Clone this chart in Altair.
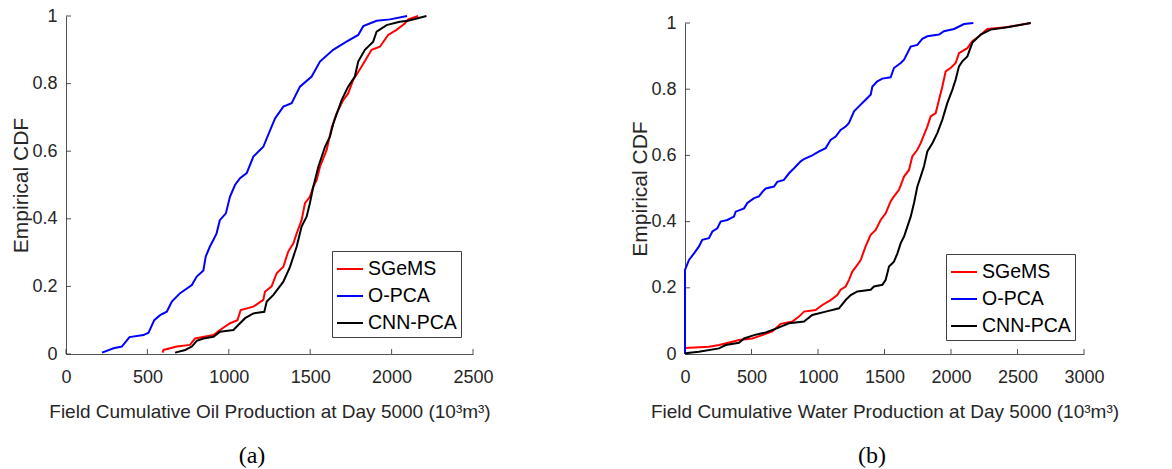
import altair as alt
import pandas as pd

series = ["SGeMS", "O-PCA", "CNN-PCA"]
colors = ["#ff0000", "#0000ff", "#000000"]
y_ticks = [0, 0.2, 0.4, 0.6, 0.8, 1]
a_x_ticks = [0, 500, 1000, 1500, 2000, 2500]
b_x_ticks = [0, 500, 1000, 1500, 2000, 2500, 3000]

a_title = "Field Cumulative Oil Production at Day 5000 (10³m³)"
b_title = "Field Cumulative Water Production at Day 5000 (10³m³)"

# Panel (a): oil
a_sgems_x = [593, 599, 681, 762, 793, 906, 946, 1008, 1053, 1073, 1151, 1212, 1222, 1263, 1294, 1335, 1365, 1396, 1417, 1447,
             1468, 1498, 1519, 1540, 1560, 1601, 1631, 1662, 1703, 1733, 1764, 1815, 1846, 1877, 1928, 1979, 2030, 2081, 2102, 2163]
a_sgems_y = [0.004, 0.012, 0.022, 0.027, 0.046, 0.056, 0.071, 0.091, 0.10, 0.13, 0.14, 0.16, 0.184, 0.20, 0.239, 0.258, 0.303, 0.327, 0.357, 0.396,
             0.446, 0.465, 0.495, 0.515, 0.554, 0.604, 0.668, 0.712, 0.751, 0.771, 0.811, 0.85, 0.875, 0.90, 0.909, 0.944, 0.959, 0.978, 0.99, 1.0]
a_opca_x = [221, 292, 343, 390, 476, 507, 542, 578, 619, 650, 701, 773, 803, 844, 858, 884, 905, 925, 945, 982,
            1007, 1038, 1069, 1110, 1151, 1212, 1263, 1284, 1335, 1386, 1437, 1509, 1560, 1641, 1723, 1795, 1826, 1908, 1990, 2095]
a_opca_y = [0.004, 0.017, 0.022, 0.05, 0.056, 0.063, 0.10, 0.115, 0.125, 0.155, 0.18, 0.204, 0.229, 0.247, 0.288, 0.318, 0.337, 0.357, 0.396, 0.416,
            0.465, 0.50, 0.52, 0.535, 0.584, 0.613, 0.673, 0.697, 0.732, 0.742, 0.791, 0.821, 0.865, 0.90, 0.924, 0.944, 0.970, 0.986, 0.99, 1.0]
a_cnn_x = [670, 732, 773, 803, 844, 906, 946, 1028, 1100, 1151, 1218, 1233, 1274, 1335, 1376, 1417, 1447, 1478, 1498, 1519,
           1550, 1591, 1621, 1642, 1693, 1733, 1774, 1795, 1836, 1887, 1908, 1969, 2050, 2101, 2214]
a_cnn_y = [0.004, 0.012, 0.022, 0.039, 0.046, 0.051, 0.066, 0.071, 0.106, 0.12, 0.125, 0.155, 0.175, 0.214, 0.258, 0.318, 0.377, 0.406, 0.446, 0.495,
           0.554, 0.613, 0.643, 0.682, 0.751, 0.791, 0.821, 0.865, 0.90, 0.924, 0.954, 0.973, 0.983, 0.986, 1.0]

# Panel (b): water
b_sgems_x = [0, 180, 256, 356, 406, 506, 581, 657, 719, 807, 857, 895, 982, 1033, 1095, 1145, 1170, 1208, 1233, 1258,
             1296, 1321, 1358, 1396, 1434, 1471, 1509, 1546, 1571, 1609, 1647, 1684, 1709, 1747, 1772, 1797, 1822, 1847, 1885, 1910,
             1935, 1960, 1997, 2035, 2060, 2123, 2160, 2211, 2273, 2411, 2599]
b_sgems_y = [0.018, 0.022, 0.027, 0.037, 0.042, 0.047, 0.057, 0.068, 0.091, 0.098, 0.113, 0.128, 0.133, 0.148, 0.163, 0.178, 0.194, 0.204, 0.224, 0.249,
             0.269, 0.284, 0.325, 0.36, 0.375, 0.405, 0.425, 0.461, 0.476, 0.496, 0.536, 0.556, 0.597, 0.617, 0.637, 0.662, 0.687, 0.718, 0.728, 0.768,
             0.808, 0.854, 0.864, 0.879, 0.909, 0.924, 0.945, 0.96, 0.982, 0.987, 1.0]
b_opca_x = [0, 0, 30, 68, 105, 130, 180, 206, 243, 268, 318, 368, 381, 444, 469, 519, 556, 582, 607, 669,
            694, 744, 782, 820, 870, 895, 957, 1008, 1058, 1095, 1133, 1170, 1208, 1233, 1271, 1308, 1358, 1396, 1409, 1446,
            1484, 1546, 1571, 1622, 1647, 1697, 1747, 1784, 1822, 1910, 1947, 2023, 2098, 2168]
b_opca_y = [0, 0.254, 0.284, 0.304, 0.325, 0.345, 0.35, 0.37, 0.38, 0.40, 0.405, 0.415, 0.43, 0.44, 0.456, 0.471, 0.476, 0.49, 0.50, 0.506,
            0.52, 0.526, 0.546, 0.561, 0.582, 0.589, 0.60, 0.612, 0.622, 0.647, 0.657, 0.677, 0.687, 0.698, 0.733, 0.748, 0.768, 0.783, 0.808, 0.824,
            0.832, 0.836, 0.864, 0.879, 0.889, 0.929, 0.934, 0.952, 0.96, 0.965, 0.975, 0.982, 0.997, 1.0]
b_cnn_x = [0, 105, 256, 306, 406, 444, 519, 607, 694, 782, 895, 957, 1058, 1158, 1208, 1246, 1296, 1396, 1421, 1484,
           1509, 1534, 1571, 1597, 1622, 1647, 1672, 1697, 1722, 1747, 1772, 1797, 1822, 1860, 1897, 1935, 1972, 2010, 2035, 2060,
           2085, 2123, 2160, 2223, 2298, 2436, 2599]
b_cnn_y = [0.002, 0.007, 0.017, 0.027, 0.034, 0.047, 0.057, 0.065, 0.078, 0.093, 0.098, 0.118, 0.128, 0.138, 0.163, 0.178, 0.189, 0.194, 0.204, 0.209,
           0.224, 0.264, 0.279, 0.304, 0.335, 0.355, 0.385, 0.415, 0.456, 0.506, 0.536, 0.567, 0.612, 0.637, 0.667, 0.708, 0.758, 0.798, 0.829, 0.869,
           0.884, 0.899, 0.94, 0.965, 0.98, 0.988, 1.0]

FONT = "Liberation Sans"
TXT = "#262626"


def make_df(curves):
    rows = []
    for name, xs, ys in curves:
        for i, (x, y) in enumerate(zip(xs, ys)):
            rows.append({"series": name, "x": x, "y": y, "i": i})
    return pd.DataFrame(rows)


def panel(df, xmax, xticks, xtitle, w, h, ytop, leg_xy, caption, cap_xy):
    xenc = alt.X("x:Q", scale=alt.Scale(domain=[0, xmax], nice=False, zero=False),
                 axis=alt.Axis(values=xticks, format="d", title=xtitle, labelPadding=14, labelFlush=False,
                               titleFontSize=19, titleY=63, titleBaseline="alphabetic"))
    yenc = alt.Y("y:Q", scale=alt.Scale(domain=[0, 1], nice=False, range=[h, ytop]),
                 axis=alt.Axis(values=y_ticks, format="~g", title="Empirical CDF", labelPadding=9,
                               titleFontSize=21, titleX=-39, titleBaseline="alphabetic"))
    lines = alt.Chart(df).mark_line(strokeWidth=2).encode(
        x=xenc, y=yenc,
        color=alt.Color("series:N", scale=alt.Scale(domain=series, range=colors),
                        legend=alt.Legend(orient="none", legendX=leg_xy[0], legendY=leg_xy[1], title=None,
                                          symbolType="stroke", symbolSize=676, symbolStrokeWidth=2,
                                          labelFont=FONT, labelFontSize=19.5, labelColor="black",
                                          strokeColor="#404040", fillColor="white", padding=4,
                                          rowPadding=3, labelOffset=4)),
        order="i:Q",
    )
    xt = alt.Chart(pd.DataFrame({"x": xticks})).mark_rule(color=TXT, strokeWidth=0.8).encode(
        x=xenc, y=alt.value(h), y2=alt.value(h - 5))
    yt = alt.Chart(pd.DataFrame({"y": y_ticks})).mark_rule(color=TXT, strokeWidth=0.8).encode(
        y=yenc, x=alt.value(0), x2=alt.value(5))
    cap = alt.Chart(pd.DataFrame({"t": [caption]})).mark_text(
        font="Liberation Serif", fontSize=24, color="black", baseline="alphabetic", align="center").encode(
        text="t:N", x=alt.value(cap_xy[0]), y=alt.value(cap_xy[1]))
    return alt.layer(xt, yt, lines, cap).properties(width=w, height=h)


df_a = make_df([("SGeMS", a_sgems_x, a_sgems_y), ("O-PCA", a_opca_x, a_opca_y), ("CNN-PCA", a_cnn_x, a_cnn_y)])
df_b = make_df([("SGeMS", b_sgems_x, b_sgems_y), ("O-PCA", b_opca_x, b_opca_y), ("CNN-PCA", b_cnn_x, b_cnn_y)])

pa = panel(df_a, 2500, a_x_ticks, a_title, 407, 338, 0, (266, 235), "(a)", (186, 447))
pb = panel(df_b, 3000, b_x_ticks, b_title, 399, 338, 7, (261, 238), "(b)", (187, 447))

chart = alt.hconcat(pa, pb, spacing=135).resolve_legend(color="independent").resolve_scale(
    color="independent"
).properties(
    padding={"left": 10, "top": 7, "right": 0, "bottom": 0}
).configure_view(stroke=None).configure_axis(
    domainColor=TXT, domainWidth=0.8, ticks=False, grid=False,
    labelFont=FONT, labelFontSize=18, labelColor=TXT,
    titleFont=FONT, titleFontWeight="normal", titleColor=TXT,
)

chart.save("out.html", embed_options={"renderer": "svg", "actions": False})
